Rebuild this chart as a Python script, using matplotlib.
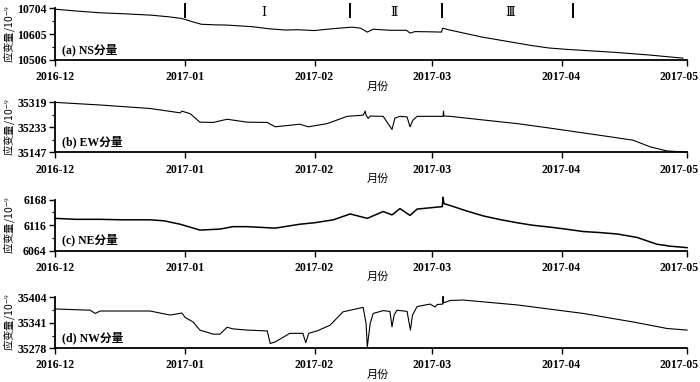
"""Four-component borehole strain records, Dec 2016 - May 2017."""

import matplotlib
matplotlib.use('Agg')
import matplotlib.dates as mdates
import matplotlib.pyplot as plt
import matplotlib.transforms as mtransforms
import numpy as np
import pandas as pd


START = pd.Timestamp('2016-12-01')
MONTHS = ['2016-12-01', '2017-01-01', '2017-02-01', '2017-03-01',
          '2017-04-01', '2017-05-01']

# Days after 2016-12-01 and strain values (10^-9)
ns_days = [0, 5, 11, 17, 23, 27, 30, 31, 33, 35, 38, 41, 44, 47, 51, 55, 58,
           62, 65, 67, 71, 73, 74.6, 76, 80, 84, 84.8, 86, 90, 92.3, 92.6,
           94, 98, 102, 106, 110, 114, 118, 122, 126, 130, 134, 138, 142,
           146, 150]
ns_vals = [10701, 10694, 10687, 10683, 10678, 10672, 10666, 10662, 10652,
           10643, 10641, 10640, 10637, 10634, 10626, 10621, 10622, 10619,
           10624, 10627, 10632, 10628, 10613, 10624, 10620, 10620, 10609,
           10615, 10614, 10613, 10628, 10622, 10608, 10594, 10583, 10572,
           10561, 10552, 10547, 10543, 10539, 10535, 10530, 10525, 10519,
           10513]

ew_days = [0, 10.8, 22.7, 29.9, 30.3, 32.3, 34.6, 37.8, 41.1, 45.9, 50.7,
           52.6, 58.5, 60.5, 65, 69.8, 73.6, 74.1, 74.3, 74.8, 75.3, 78.4,
           80.5, 81.2, 82.4, 84.1, 84.8, 85.5, 86.5, 92.7, 92.8, 92.9, 94.4,
           102, 110.4, 118, 126.2, 132, 138.1, 142.2, 146.2, 151]
ew_vals = [35319, 35310, 35298, 35283, 35289, 35280, 35251, 35250, 35261,
           35251, 35250, 35235, 35244, 35235, 35246, 35271, 35275, 35289,
           35275, 35264, 35272, 35271, 35226, 35265, 35271, 35269, 35235,
           35258, 35271, 35271, 35289, 35272, 35271, 35259, 35246, 35231,
           35214, 35202, 35189, 35166, 35152, 35148]

ne_days = [0, 5, 10.8, 16, 22.7, 26, 29.9, 34.6, 39.4, 42.5, 45.9, 52.6,
           58.5, 62, 66.5, 70.5, 74.6, 78.4, 80.5, 82.4, 84.8, 86.5, 92.5,
           92.7, 92.9, 93.8, 98, 102.3, 106, 110.4, 114, 118.3, 122, 126.2,
           130, 134.3, 139, 143.8, 147, 151]
ne_vals = [6130, 6128, 6128, 6127, 6127, 6125, 6118, 6106, 6108, 6113, 6113,
           6110, 6118, 6121, 6127, 6139, 6130, 6144, 6137, 6150, 6136, 6149,
           6154, 6173, 6160, 6158, 6146, 6135, 6128, 6121, 6116, 6112, 6108,
           6103, 6101, 6098, 6091, 6077, 6073, 6070]

nw_days = [0, 8.4, 9.6, 10.8, 22.7, 27.5, 30.3, 31.1, 33, 34.6, 37.8, 39.4,
           41.1, 42.5, 45.9, 50.7, 51.4, 52.6, 56.1, 59.2, 59.9, 60.6, 62.6,
           65.7, 68.8, 73.6, 74.3, 74.6, 75.3, 76, 78.4, 80, 80.5, 81, 81.7,
           84.1, 84.9, 85.4, 86.5, 89.6, 90.8, 91.3, 92.6, 92.7, 92.8, 94.4,
           97.5, 110.4, 126.2, 138.1, 146.2, 151]
nw_vals = [35375, 35372, 35364, 35370, 35370, 35360, 35365, 35354, 35343,
           35323, 35313, 35313, 35330, 35326, 35323, 35321, 35290, 35294,
           35315, 35315, 35292, 35315, 35321, 35335, 35368, 35379, 35340,
           35282, 35340, 35364, 35371, 35369, 35331, 35360, 35372, 35369,
           35323, 35360, 35381, 35387, 35380, 35386, 35387, 35406, 35390,
           35396, 35397, 35385, 35364, 35343, 35327, 35323]

series = [
    ('(a) NS分量', ns_days, ns_vals, [10506, 10605, 10704]),
    ('(b) EW分量', ew_days, ew_vals, [35147, 35233, 35319]),
    ('(c) NE分量', ne_days, ne_vals, [6064, 6116, 6168]),
    ('(d) NW分量', nw_days, nw_vals, [35278, 35341, 35404]),
]

# Stage boundaries and labels on the NS panel
stage_days = [31, 70.5, 92.5, 123.8]
stage_label_days = [49.9, 81, 108.7]
stage_labels = ['Ⅰ', 'Ⅱ', 'Ⅲ']

SERIF = ['Liberation Serif', 'Noto Sans CJK SC']
CJK = ['Noto Sans CJK SC', 'DejaVu Sans']
plt.rcParams['mathtext.fontset'] = 'stix'

fig = plt.figure(figsize=(7.0, 3.82), dpi=100)

# [left, bottom, width, height] in figure fraction
positions = [
    [0.0786, 0.843, 0.903, 0.135],
    [0.0786, 0.601, 0.903, 0.131],
    [0.0786, 0.344, 0.903, 0.133],
    [0.0786, 0.088, 0.903, 0.134],
]

month_dates = pd.to_datetime(MONTHS)
# nudge the last month label so it stays inside the figure
shift_left = mtransforms.ScaledTranslation(-6 / 72, 0, fig.dpi_scale_trans)

for (label, days, vals, yt), pos in zip(series, positions):
    ax = fig.add_axes(pos)
    x = START + pd.to_timedelta(days, unit='D')
    lw = 1.1 if label.startswith('(c)') else 0.8
    ax.plot(x, vals, color='black', lw=lw, clip_on=False)

    ax.set_xlim(month_dates[0], month_dates[-1])
    ax.set_ylim(yt[0], yt[-1])

    ax.set_xticks(month_dates)
    ax.xaxis.set_major_formatter(mdates.DateFormatter('%Y-%m'))
    ax.set_yticks(yt)
    ax.set_yticks([(yt[0] + yt[1]) / 2, (yt[1] + yt[2]) / 2], minor=True)
    ax.tick_params(axis='x', which='major', length=4, width=1.0,
                   labelsize=8.5, pad=4)
    ax.tick_params(axis='y', which='major', length=4, width=1.0,
                   labelsize=8.5, pad=2)
    ax.tick_params(axis='y', which='minor', length=2.5, width=0.8)
    for t in ax.get_xticklabels() + ax.get_yticklabels():
        t.set_family(SERIF)
        t.set_fontweight('bold')
    last = ax.get_xticklabels()[-1]
    last.set_transform(last.get_transform() + shift_left)

    ax.spines['top'].set_visible(False)
    ax.spines['right'].set_visible(False)
    ax.spines['left'].set_linewidth(1.3)
    ax.spines['bottom'].set_linewidth(1.3)

    ax.set_ylabel('应变量/10$^{-9}$', family=CJK, fontsize=7.5, va='center')
    ax.yaxis.set_label_coords(-0.073, 0.5)

    ax.text(0.011, 0.2, label, transform=ax.transAxes, family=SERIF,
            fontsize=8.5, fontweight='bold', va='center', ha='left')
    ax.text(0.511, -0.52, '月份', transform=ax.transAxes, family=CJK,
            fontsize=8, va='center', ha='center')

    if label.startswith('(a)'):
        for d in stage_days:
            ax.axvline(START + pd.Timedelta(days=d), ymin=0.83, ymax=1.08,
                       color='black', lw=1.4, clip_on=False)
        for d, s in zip(stage_label_days, stage_labels):
            ax.text(START + pd.Timedelta(days=d), 10688, s,
                    family=['DejaVu Serif', 'Noto Sans CJK SC'],
                    fontsize=9, ha='center', va='center')

fig.savefig('out.png', dpi=100)
